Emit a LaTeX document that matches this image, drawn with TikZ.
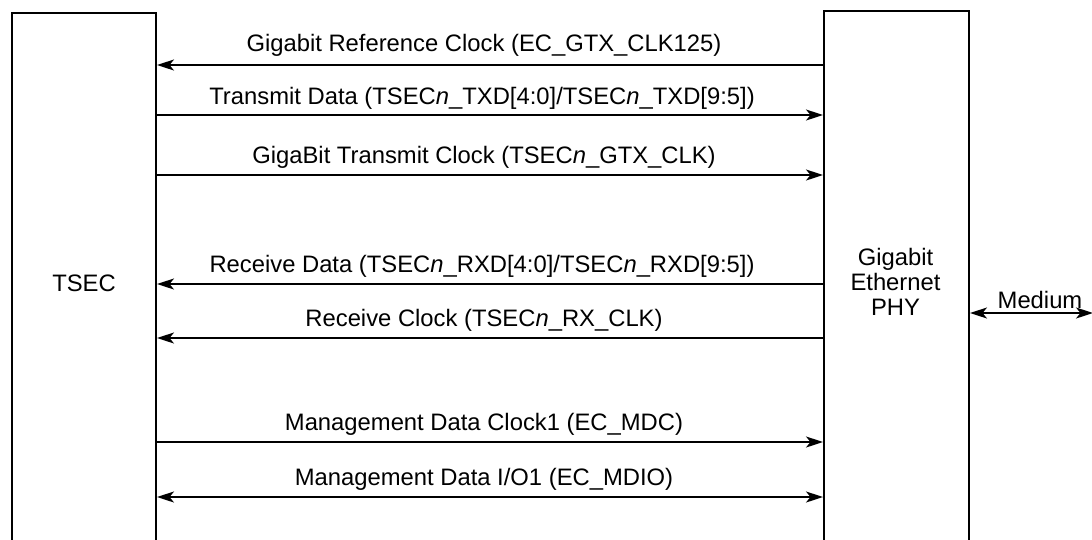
\documentclass[tikz,border=0pt]{standalone}
\usepackage{fontspec}
\setmainfont{Liberation Sans}
\usetikzlibrary{arrows.meta}
\begin{document}
\begin{tikzpicture}[x=1pt,y=-1pt, line width=1.8pt,
  >={Stealth[length=17pt,width=11pt,inset=4.5pt]},
  lbl/.style={font=\fontsize{23.8}{25}\selectfont, anchor=base, inner sep=0pt},
  blocktxt/.style={font=\fontsize{23.8}{25}\selectfont, align=center, inner sep=0pt},
  box/.style={draw, line width=2pt, rectangle, inner sep=0pt}]
\useasboundingbox (0,0) rectangle (1092,539);
\clip (0,0) rectangle (1092,539);
\node[box, minimum width=144pt, minimum height=600pt, anchor=north west] (tsec) at (11,12) {};
\node[box, minimum width=145pt, minimum height=600pt, anchor=north west] (phy) at (823,10) {};
\node[blocktxt] (tsectxt) at (84,283) {TSEC};
\node[blocktxt] (phytxt) at (895.5,282) {Gigabit\\Ethernet\\PHY};
% rows
\coordinate (r1) at (0,65);
\coordinate (r2) at (0,115);
\coordinate (r3) at (0,175);
\coordinate (r4) at (0,284);
\coordinate (r5) at (0,338);
\coordinate (r6) at (0,442);
\coordinate (r7) at (0,497);
\coordinate (med) at (1093,313);
\draw[<-] (tsec.east |- r1) -- (phy.west |- r1);
\draw[->] (tsec.east |- r2) -- (phy.west |- r2);
\draw[->] (tsec.east |- r3) -- (phy.west |- r3);
\draw[<-] (tsec.east |- r4) -- (phy.west |- r4);
\draw[<-] (tsec.east |- r5) -- (phy.west |- r5);
\draw[->] (tsec.east |- r6) -- (phy.west |- r6);
\draw[<->] (tsec.east |- r7) -- (phy.west |- r7);
\draw[<->] (phy.east |- med) -- (med);
\node[lbl] (l1) at (484,51) {Gigabit Reference Clock (EC\_GTX\_CLK125)};
\node[lbl] (l2) at (482,104) {Transmit Data (TSEC\textit{n}\_TXD[4:0]/TSEC\textit{n}\_TXD[9:5])};
\node[lbl] (l3) at (484,163) {GigaBit Transmit Clock (TSEC\textit{n}\_GTX\_CLK)};
\node[lbl] (l4) at (482,272) {Receive Data (TSEC\textit{n}\_RXD[4:0]/TSEC\textit{n}\_RXD[9:5])};
\node[lbl] (l5) at (484,326) {Receive Clock (TSEC\textit{n}\_RX\_CLK)};
\node[lbl] (l6) at (484,430) {Management Data Clock1 (EC\_MDC)};
\node[lbl] (l7) at (484,485) {Management Data I/O1 (EC\_MDIO)};
\node[lbl] (lm) at (1040,308) {Medium};
\end{tikzpicture}
\end{document}
